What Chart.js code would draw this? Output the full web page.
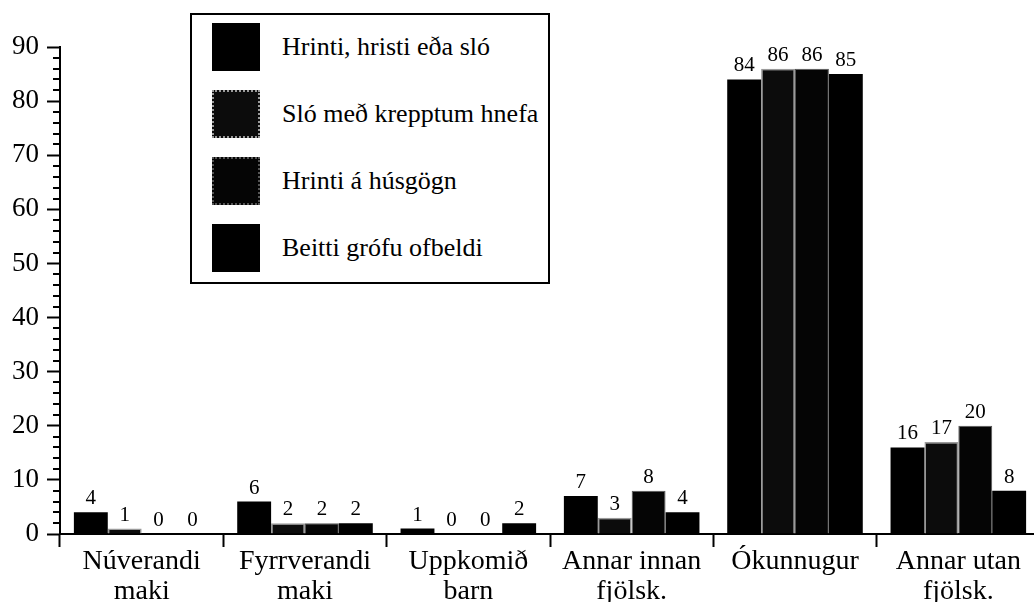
<!DOCTYPE html>
<html>
<head>
<meta charset="utf-8">
<script src="https://cdn.jsdelivr.net/npm/chart.js@4/dist/chart.umd.min.js"></script>
<style>
  html, body { margin: 0; padding: 0; background: #fff; overflow: hidden; }
  #wrap { position: relative; width: 1040px; height: 602px; }
  #legend {
    position: absolute; left: 190px; top: 13px; width: 356px; height: 267px;
    border: 2px solid #000; background: #fff; box-sizing: content-box;
    font-family: "Liberation Serif", "Times New Roman", serif; font-size: 26px; color: #000;
  }
  .item { position: absolute; left: 20px; height: 48px; display: flex; align-items: center; white-space: nowrap; }
  .sw { width: 48px; height: 48px; box-sizing: border-box; margin-right: 22px; flex: none; }
</style>
</head>
<body>
<div id="wrap">
  <canvas id="myChart" width="1040" height="602"></canvas>
  <div id="legend"></div>
</div>
<script>
var kategoriur = [["Núverandi", "maki"], ["Fyrrverandi", "maki"], ["Uppkomið", "barn"], ["Annar innan", "fjölsk."], "Ókunnugur", ["Annar utan", "fjölsk."]];
var hrinti = [4, 6, 1, 7, 84, 16];
var sloHnefa = [1, 2, 0, 3, 86, 17];
var husgogn = [0, 2, 0, 8, 86, 20];
var grofu = [0, 2, 2, 4, 85, 8];
var yTicks = [0, 10, 20, 30, 40, 50, 60, 70, 80, 90];

const serif = "'Liberation Serif', 'Times New Roman', serif";

// minor ticks every 2 units on y axis
const minorTicks = {
  id: "minorTicks",
  afterDraw(chart) {
    const y = chart.scales.y;
    const ctx = chart.ctx;
    const x0 = chart.chartArea.left;
    ctx.save();
    ctx.strokeStyle = "#000";
    ctx.lineWidth = 2;
    for (let v = 0; v <= 90; v += 2) {
      if (v % 10 == 0) continue;
      const py = Math.round(y.getPixelForValue(v));
      ctx.beginPath();
      ctx.moveTo(x0 - 7, py);
      ctx.lineTo(x0, py);
      ctx.stroke();
    }
    ctx.restore();
  },
};

// value numbers above bars
const barLabels = {
  id: "barLabels",
  afterDatasetsDraw(chart) {
    const ctx = chart.ctx;
    ctx.save();
    ctx.font = "21px " + serif;
    ctx.fillStyle = "#000";
    ctx.textAlign = "center";
    ctx.textBaseline = "bottom";
    chart.data.datasets.forEach((ds, i) => {
      chart.getDatasetMeta(i).data.forEach((bar, j) => {
        ctx.fillText(ds.data[j], bar.x, bar.y - 3);
      });
    });
    ctx.restore();
  },
};

const ctx = document.getElementById("myChart").getContext("2d");
const myChart = new Chart(ctx, {
  type: "bar",
  data: {
    labels: kategoriur,
    datasets: [
      { label: "Hrinti, hristi eða sló", data: hrinti, backgroundColor: "#000", borderColor: "#000", borderWidth: 0 },
      { label: "Sló með krepptum hnefa", data: sloHnefa, backgroundColor: "#0c0c0c", borderColor: "#9a9a9a", borderWidth: 1.5 },
      { label: "Hrinti á húsgögn", data: husgogn, backgroundColor: "#050505", borderColor: "#555", borderWidth: 1 },
      { label: "Beitti grófu ofbeldi", data: grofu, backgroundColor: "#000", borderColor: "#000", borderWidth: 0 },
    ],
  },
  options: {
    responsive: false,
    animation: false,
    layout: { padding: { top: 47, left: 0, right: 0, bottom: 0 } },
    categoryPercentage: 0.83,
    barPercentage: 1.0,
    plugins: { legend: { display: false }, tooltip: { enabled: false } },
    scales: {
      x: {
        border: { display: true, color: "#000", width: 2 },
        grid: { display: true, offset: true, drawOnChartArea: false, drawTicks: true, tickLength: 13, tickColor: "#000", tickWidth: 2 },
        ticks: { color: "#000", font: { family: serif, size: 28, lineHeight: "30px" }, padding: 0, maxRotation: 0, autoSkip: false },
        afterFit: function (scale) { scale.height = 68; },
      },
      y: {
        min: 0,
        max: 90,
        border: { display: true, color: "#000", width: 2 },
        grid: { display: true, drawOnChartArea: false, drawTicks: true, tickLength: 13, tickColor: "#000", tickWidth: 2 },
        afterBuildTicks: function (scale) { scale.ticks = yTicks.map((v) => ({ value: v })); },
        ticks: { color: "#000", font: { family: serif, size: 27 }, padding: 8 },
        afterFit: function (scale) { scale.width = 60; },
      },
    },
  },
  plugins: [minorTicks, barLabels],
});

// legend built from the chart's datasets
const legend = document.getElementById("legend");
myChart.data.datasets.forEach((ds, i) => {
  const item = document.createElement("div");
  item.className = "item";
  item.style.top = 8 + i * 67 + "px";
  const sw = document.createElement("div");
  sw.className = "sw";
  sw.style.background = ds.backgroundColor;
  if (ds.borderWidth) sw.style.border = "2px dotted " + ds.borderColor;
  const txt = document.createElement("span");
  txt.textContent = ds.label;
  item.appendChild(sw);
  item.appendChild(txt);
  legend.appendChild(item);
});
</script>
</body>
</html>
